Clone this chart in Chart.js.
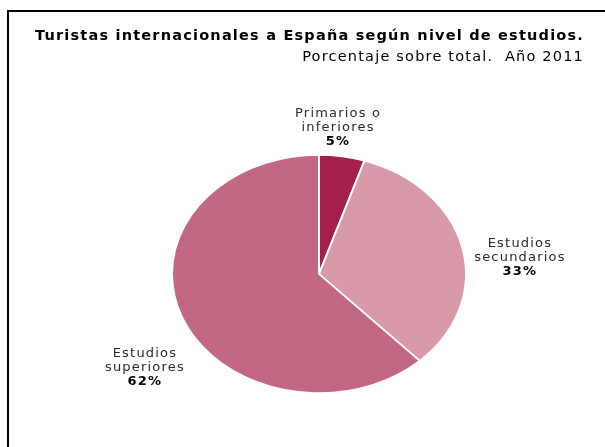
<!DOCTYPE html>
<html>
<head>
<meta charset="utf-8">
<script src="https://cdn.jsdelivr.net/npm/chart.js@4"></script>
<style>
  html, body { margin: 0; padding: 0; background: #fff; }
  #wrap { position: relative; width: 605px; height: 447px; }
  #frame { position: absolute; left: 7px; top: 10px; right: 0; bottom: 0;
           border-top: 2px solid #000; border-left: 2px solid #000; }
  canvas { position: absolute; left: 0; top: 0; }
</style>
</head>
<body>
<div id="wrap">
  <div id="frame"></div>
  <canvas id="pieChart" width="605" height="447"></canvas>
</div>
<script>
const categorias = [["Primarios o", "inferiores"], ["Estudios", "secundarios"], ["Estudios", "superiores"]];
const porcentajes = [5, 33, 62];
const colores = ["#a51f4d", "#d899a8", "#c36883"];
const titulo = "Turistas internacionales a España según nivel de estudios.";
const subtitulo = "Porcentaje sobre total.  Año 2011";

// the original pie is drawn as an ellipse, squash it vertically
const escalaY = 0.81;
// label centre relative to the pie centre, in units of the x / y radius
const posEtiquetas = [[0.13, -1.23], [1.367, -0.14], [-1.184, 0.79]];

const fuente = "'DejaVu Sans', Verdana, sans-serif";

// title block, right aligned like the original (the built-in title squeezes it to the padded width)
const cabecera = {
  id: "cabecera",
  afterDraw(chart) {
    const ctx = chart.ctx;
    const x = chart.width - 21;
    ctx.save();
    ctx.textAlign = "right";
    ctx.textBaseline = "middle";
    ctx.fillStyle = "#000";
    ctx.letterSpacing = "1.2px";
    ctx.font = "bold 14.5px " + fuente;
    ctx.fillText(titulo, x, 36);
    ctx.font = "14.5px " + fuente;
    ctx.fillText(subtitulo, x, 57);
    ctx.restore();
  }
};

const aplastar = {
  id: "aplastar",
  beforeDatasetsDraw(chart) {
    const arc = chart.getDatasetMeta(0).data[0];
    const ctx = chart.ctx;
    ctx.save();
    ctx.translate(arc.x, arc.y);
    ctx.scale(1, escalaY);
    ctx.translate(-arc.x, -arc.y);
  },
  afterDatasetsDraw(chart) {
    chart.ctx.restore();
  }
};

const etiquetas = {
  id: "etiquetas",
  afterDraw(chart) {
    const ctx = chart.ctx;
    const meta = chart.getDatasetMeta(0);
    const arc = meta.data[0];
    const rx = arc.outerRadius;
    const ry = arc.outerRadius * escalaY;
    ctx.save();
    ctx.textAlign = "center";
    ctx.textBaseline = "middle";
    ctx.letterSpacing = "1.2px";
    meta.data.forEach(function(a, i) {
      const cx = arc.x + posEtiquetas[i][0] * rx;
      const cy = arc.y + posEtiquetas[i][1] * ry;
      const lineas = categorias[i];
      ctx.fillStyle = "#2a2a2a";
      ctx.font = "13px " + fuente;
      ctx.fillText(lineas[0], cx, cy - 14);
      ctx.fillText(lineas[1], cx, cy);
      ctx.fillStyle = "#000";
      ctx.font = "bold 13px " + fuente;
      ctx.fillText(porcentajes[i] + "%", cx, cy + 14);
    });
    ctx.restore();
  }
};

const ctx = document.getElementById("pieChart").getContext("2d");
const chart = new Chart(ctx, {
  type: "pie",
  data: {
    labels: categorias.map(c => c.join(" ")),
    datasets: [{
      data: porcentajes,
      backgroundColor: colores,
      borderColor: "#fff",
      borderWidth: 2
    }]
  },
  options: {
    responsive: false,
    animation: false,
    layout: {
      padding: { left: 55, right: 22, top: 126, bottom: 25 }
    },
    plugins: {
      legend: { display: false },
      tooltip: { enabled: false },
      title: { display: false }
    }
  },
  plugins: [aplastar, etiquetas, cabecera]
});
</script>
</body>
</html>
